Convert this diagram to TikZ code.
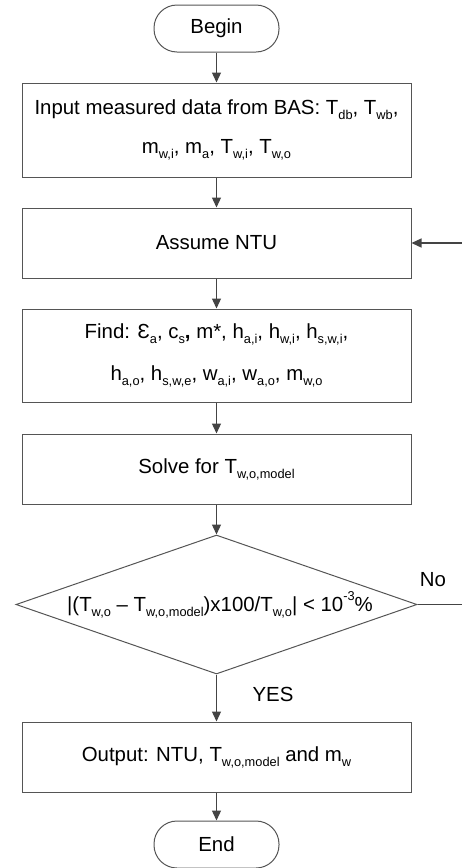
\documentclass[tikz,border=0pt]{standalone}
\usepackage{fontspec}
\setmainfont{Liberation Sans}
\usetikzlibrary{arrows.meta,shapes.geometric}
\definecolor{edge}{HTML}{555555}
\definecolor{flow}{HTML}{444444}
% lowered / raised small indices
\newcommand\dn[1]{\raisebox{-0.45ex}{\fontsize{12.8}{12.8}\selectfont #1}}
\newcommand\up[1]{\raisebox{1.05ex}{\fontsize{12.8}{12.8}\selectfont #1}}
\begin{document}
\begin{tikzpicture}[x=1pt,y=-1pt,
  every node/.style={font=\fontsize{20.4}{24}\selectfont, text=black},
  procbox/.style={draw=edge, line width=1pt, minimum width=389pt, inner sep=0pt, align=center},
  term/.style={draw=edge, line width=1pt, rounded corners=23pt, minimum width=125pt,
    minimum height=47pt, inner sep=0pt},
  decision/.style={draw=edge, line width=1pt, diamond, inner sep=0pt,
    minimum width=401pt, minimum height=139pt},
  flowarrow/.style={draw=flow, line width=1.3pt, -{Triangle[length=10pt,width=9pt]}},
  flowline/.style={draw=flow, line width=1.3pt},
  tag/.style={inner sep=0pt}
]
\useasboundingbox (0,0) rectangle (462,868);

% terminals and process boxes
\node[term] (begin) at (216.5,28.5) {Begin};
\node[procbox, minimum height=94pt, font=\fontsize{20.4}{39}\selectfont] (input) at (216.5,130)
  {Input measured data from BAS: T\dn{db}, T\dn{wb},\\
   m\dn{w,i}, m\dn{a}, T\dn{w,i}, T\dn{w,o}};
\node[procbox, minimum height=70pt] (assume) at (216.5,243) {Assume NTU};
\node[procbox, minimum height=93pt, font=\fontsize{20.4}{42}\selectfont] (find) at (216.5,355.5)
  {Find: Ɛ\dn{a}, c\dn{s}\textbf{,} m*, h\dn{a,i}, h\dn{w,i}, h\dn{s,w,i},\\
   h\dn{a,o}, h\dn{s,w,e}, w\dn{a,i}, w\dn{a,o}, m\dn{w,o}};
\node[procbox, minimum height=70pt] (solve) at (216.5,469) {Solve for T\dn{w,o,model}};

% convergence test
\node[decision] (dec) at (216.5,604.5) {};
\node[tag] (dectext) at (220,605)
  {|(T\dn{w,o} – T\dn{w,o,model})x100/T\dn{w,o}| < 10\up{-3}\%};

\node[procbox, minimum height=70pt] (output) at (216.5,757)
  {Output: NTU, T\dn{w,o,model} and m\dn{w}};
\node[term] (end) at (216.5,844.5) {End};

% labels
\node[tag] (nolab) at (433,580) {No};
\node[tag] (yeslab) at (273,694) {YES};

% connectors
\coordinate (loopin) at (462,243);
\coordinate (noout) at (462,604.5);
\draw[flowarrow] (begin) -- (input);
\draw[flowarrow] (input) -- (assume);
\draw[flowarrow] (assume) -- (find);
\draw[flowarrow] (find) -- (solve);
\draw[flowarrow] (solve) -- (dec.north);
\draw[flowarrow] (dec.south) -- (output);
\draw[flowarrow] (output) -- (end);
\draw[flowarrow] (loopin) -- (assume.east);
\draw[flowline] (dec.east) -- (noout);
\end{tikzpicture}
\end{document}
